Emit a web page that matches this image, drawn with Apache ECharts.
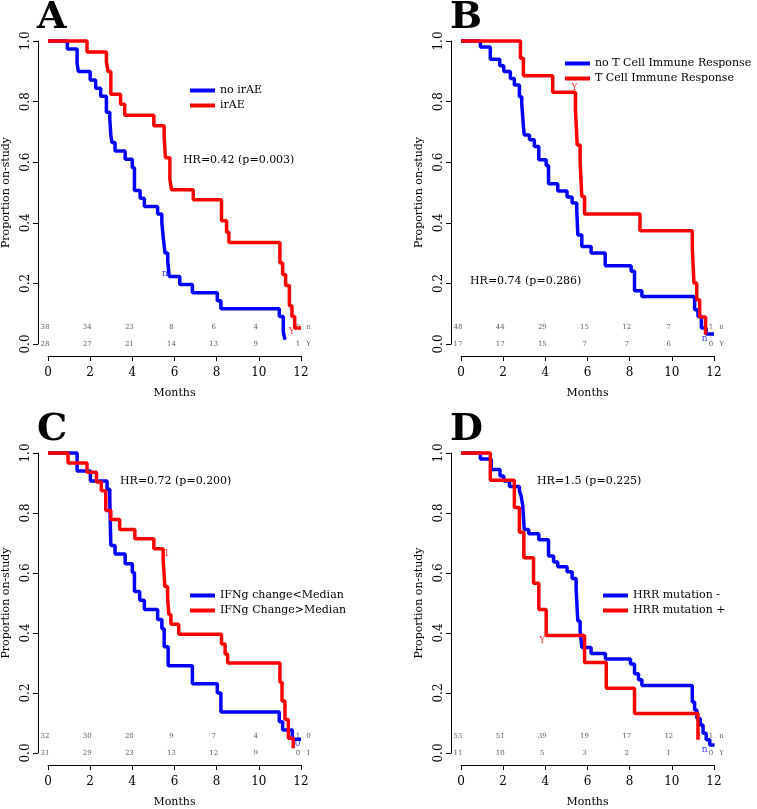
<!DOCTYPE html>
<html lang="en">
<head>
<meta charset="UTF-8">
<title>KM curves</title>
<style type="text/css">
  html, body { margin: 0; padding: 0; background: #fff; }
  #chart { width: 757px; height: 809px; }
</style>
</head>
<body>
<div id="chart"></div>
<script src="https://cdn.jsdelivr.net/npm/echarts@6/dist/echarts.min.js"></script>
<script type="text/javascript">
// panel A: irAE
var aNoIrAE = [[0,1],[0.92,0.974],[1.38,0.926],[1.44,0.899],[2.0,0.871],[2.26,0.844],[2.5,0.818],[2.77,0.765],[2.93,0.745],[2.98,0.69],[3.03,0.665],[3.18,0.637],[3.66,0.61],[4.0,0.582],[4.1,0.507],[4.37,0.481],[4.57,0.454],[5.2,0.429],[5.4,0.401],[5.47,0.349],[5.55,0.3],[5.68,0.273],[5.75,0.223],[6.25,0.196],[6.85,0.169],[8.03,0.143],[8.2,0.116],[10.97,0.091],[11.16,0.04],[11.24,0.014]];
var aIrAE = [[0,1],[1.85,0.964],[2.77,0.932],[2.85,0.899],[2.98,0.824],[3.44,0.791],[3.64,0.755],[5.02,0.72],[5.51,0.682],[5.57,0.615],[5.78,0.544],[5.86,0.509],[6.89,0.476],[8.23,0.407],[8.47,0.369],[8.58,0.335],[11.0,0.267],[11.13,0.229],[11.27,0.193],[11.45,0.126],[11.57,0.091],[11.7,0.053],[12.0,0.053]];
var aRisk1 = ['38','34','23','8','6','4','0','n'];
var aRisk2 = ['28','27','21','14','13','9','1','Y'];

// panel B: T cell immune response
var bNoTcell = [[0,1],[0.92,0.98],[1.39,0.94],[1.84,0.918],[2.03,0.899],[2.34,0.876],[2.53,0.855],[2.77,0.816],[2.88,0.795],[2.96,0.718],[3.0,0.69],[3.25,0.674],[3.48,0.652],[3.69,0.608],[4.04,0.589],[4.15,0.529],[4.59,0.505],[5.03,0.485],[5.27,0.465],[5.49,0.443],[5.54,0.36],[5.73,0.322],[6.17,0.3],[6.84,0.258],[8.07,0.24],[8.23,0.176],[8.58,0.157],[11.08,0.113],[11.24,0.091],[11.4,0.053],[11.63,0.033],[12.0,0.033]];
var bTcell = [[0,1],[2.82,0.943],[2.96,0.885],[4.35,0.831],[5.43,0.772],[5.51,0.657],[5.65,0.6],[5.73,0.487],[5.86,0.429],[8.49,0.374],[10.97,0.316],[11.05,0.201],[11.18,0.146],[11.32,0.089],[11.6,0.031]];
var bRisk1 = ['48','44','29','15','12','7','1','n'];
var bRisk2 = ['17','17','15','7','7','6','0','Y'];

// panel C: IFNg change
var cLow = [[0,1],[1.38,0.94],[2.01,0.907],[2.8,0.879],[2.93,0.846],[2.98,0.692],[3.18,0.663],[3.66,0.631],[4.0,0.602],[4.1,0.538],[4.35,0.509],[4.57,0.478],[5.2,0.445],[5.4,0.414],[5.51,0.354],[5.7,0.291],[6.85,0.231],[8.03,0.2],[8.2,0.137],[10.97,0.104],[11.13,0.077],[11.59,0.046],[12.0,0.046]];
var cHigh = [[0,1],[0.95,0.967],[1.85,0.936],[2.3,0.903],[2.53,0.874],[2.74,0.808],[2.98,0.778],[3.4,0.745],[4.12,0.714],[5.02,0.681],[5.46,0.648],[5.54,0.555],[5.67,0.522],[5.73,0.462],[5.83,0.429],[6.2,0.396],[8.23,0.363],[8.4,0.33],[8.52,0.3],[11.0,0.236],[11.1,0.173],[11.24,0.112],[11.4,0.049],[11.63,0.016]];
var cRisk1 = ['32','30','20','9','7','4','1','0'];
var cRisk2 = ['31','29','23','13','12','9','0','1'];

// panel D: HRR mutation
var dNeg = [[0,1],[0.92,0.98],[1.43,0.945],[1.85,0.923],[2.03,0.907],[2.3,0.888],[2.77,0.874],[2.85,0.857],[2.93,0.824],[3.0,0.745],[3.21,0.731],[3.69,0.711],[4.15,0.657],[4.39,0.637],[4.59,0.621],[5.03,0.604],[5.27,0.582],[5.46,0.549],[5.54,0.44],[5.65,0.407],[5.73,0.352],[6.17,0.332],[6.85,0.313],[8.04,0.297],[8.23,0.264],[8.42,0.244],[8.58,0.225],[10.97,0.17],[11.08,0.143],[11.19,0.115],[11.35,0.093],[11.48,0.066],[11.63,0.044],[11.8,0.027],[12.03,0.027]];
var dPos = [[0,1],[1.39,0.909],[2.53,0.818],[2.77,0.736],[2.98,0.651],[3.44,0.566],[3.69,0.478],[4.04,0.392],[5.86,0.302],[6.89,0.216],[8.23,0.132],[11.24,0.044]];
var dRisk1 = ['55','51','39','19','17','12','1','n'];
var dRisk2 = ['11','10','5','3','2','1','0','Y'];

var riskX = [0, 2, 4, 6, 8, 10, 12, 12.5];

// median markers [x, y, text]
var aMarks = [[5.54, 0.232, 'n', 'blue'], [11.56, 0.04, 'Y', 'red']];
var bMarks = [[5.38, 0.847, 'Y', 'red'], [11.56, 0.016, 'n', 'blue']];
var cMarks = [[5.62, 0.665, '1', 'red'], [11.84, 0.03, '0', 'blue']];
var dMarks = [[3.85, 0.374, 'Y', 'red'], [11.56, 0.011, 'n', 'blue']];

var panels = [
  {letter: 'A', left: 48, top: 41, h: 303, names: ['no irAE', 'irAE'], lines: [aNoIrAE, aIrAE], risk: [aRisk1, aRisk2], marks: aMarks,
   hr: 'HR=0.42 (p=0.003)', hrPos: [183, 162], legPos: [185, 80]},
  {letter: 'B', left: 461, top: 41, h: 303, names: ['no T Cell Immune Response', 'T Cell Immune Response'], lines: [bNoTcell, bTcell], risk: [bRisk1, bRisk2], marks: bMarks,
   hr: 'HR=0.74 (p=0.286)', hrPos: [470, 283], legPos: [560, 53]},
  {letter: 'C', left: 48, top: 453, h: 304, names: ['IFNg change<Median', 'IFNg Change>Median'], lines: [cLow, cHigh], risk: [cRisk1, cRisk2], marks: cMarks,
   hr: 'HR=0.72 (p=0.200)', hrPos: [120, 483], legPos: [185, 585]},
  {letter: 'D', left: 461, top: 453, h: 304, names: ['HRR mutation -', 'HRR mutation +'], lines: [dNeg, dPos], risk: [dRisk1, dRisk2], marks: dMarks,
   hr: 'HR=1.5 (p=0.225)', hrPos: [537, 483], legPos: [598, 585]}
];

var FONT = 'DejaVu Serif';
var grid = [], xAxis = [], yAxis = [], series = [], legend = [], graphic = [];

panels.forEach(function (p, i) {
  grid.push({left: p.left, top: p.top, width: 253, height: p.h});
  xAxis.push({
    type: 'value', gridIndex: i, min: 0, max: 12, interval: 2, offset: 12,
    name: 'Months', nameLocation: 'middle', nameGap: 32,
    nameTextStyle: {fontFamily: FONT, fontSize: 11, color: '#000'},
    axisLine: {show: true, onZero: false, lineStyle: {color: '#000', width: 1}},
    axisTick: {show: true, length: 5, lineStyle: {color: '#000'}},
    axisLabel: {fontFamily: FONT, fontSize: 12, color: '#000', margin: 11},
    splitLine: {show: false}
  });
  yAxis.push({
    type: 'value', gridIndex: i, min: 0, max: 1, interval: 0.2, offset: 10,
    name: 'Proportion on-study', nameLocation: 'middle', nameGap: 26, nameRotate: 90,
    nameTextStyle: {fontFamily: FONT, fontSize: 11, color: '#000'},
    axisLine: {show: true, onZero: false, lineStyle: {color: '#000', width: 1}},
    axisTick: {show: true, length: 5, lineStyle: {color: '#000'}},
    axisLabel: {fontFamily: FONT, fontSize: 12, color: '#000', rotate: 90, margin: 6,
      formatter: function (v) { return v.toFixed(1); }},
    splitLine: {show: false}
  });
  var colors = ['#0000FF', '#FF0000'];
  p.lines.forEach(function (d, k) {
    series.push({
      name: p.names[k], type: 'line', step: 'end', data: d,
      xAxisIndex: i, yAxisIndex: i, showSymbol: false, symbol: 'none',
      lineStyle: {color: colors[k], width: 3.5}, itemStyle: {color: colors[k]},
      clip: false, animation: false
    });
  });
  // number at risk table
  var rows = [];
  p.risk.forEach(function (row, r) {
    row.forEach(function (txt, j) {
      rows.push([riskX[j], r === 0 ? 0.055 : 0.0, txt]);
    });
  });
  series.push({
    type: 'scatter', xAxisIndex: i, yAxisIndex: i, data: rows, symbolSize: 1,
    itemStyle: {color: 'rgba(0,0,0,0)'}, clip: false, animation: false, silent: true,
    label: {show: true, position: 'inside', offset: [-3, 0], fontFamily: FONT, fontSize: 7, color: '#333',
      formatter: function (q) { return q.data[2]; }}
  });
  // median marker letters
  series.push({
    type: 'scatter', xAxisIndex: i, yAxisIndex: i, symbolSize: 1, clip: false, animation: false, silent: true,
    data: p.marks.map(function (m) {
      return {value: [m[0], m[1]], label: {formatter: m[2], color: m[3] === 'red' ? '#FF0000' : '#0000FF'}};
    }),
    itemStyle: {color: 'rgba(0,0,0,0)'},
    label: {show: true, position: 'inside', fontFamily: FONT, fontSize: 9}
  });
  legend.push({
    data: p.names, orient: 'vertical', left: p.legPos[0], top: p.legPos[1],
    icon: 'rect', itemWidth: 25, itemHeight: 4, itemGap: 4, selectedMode: false,
    textStyle: {fontFamily: FONT, fontSize: 11, color: '#000'}
  });
  graphic.push({
    type: 'text', left: p.hrPos[0], top: p.hrPos[1] - 7,
    style: {text: p.hr, font: '11px "DejaVu Serif"', fill: '#000'}
  });
  graphic.push({
    type: 'text', left: p.left - 11, top: p.top - 42,
    style: {text: p.letter, font: 'bold 38px "DejaVu Serif"', fill: '#000'}
  });
});

var myChart = echarts.init(document.getElementById('chart'));
myChart.setOption({
  animation: false,
  backgroundColor: '#fff',
  grid: grid, xAxis: xAxis, yAxis: yAxis, series: series, legend: legend, graphic: graphic
});
</script>
</body>
</html>
